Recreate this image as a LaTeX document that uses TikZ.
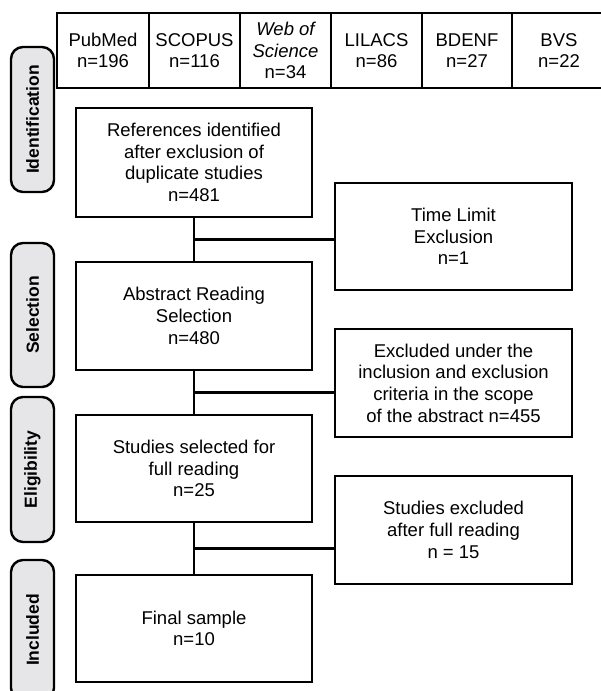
\documentclass[tikz,border=0pt]{standalone}
\usepackage{fontspec}
\setmainfont{Liberation Sans}
\usepackage{xcolor}
\usepackage{tikz}
\usetikzlibrary{positioning,calc}
\definecolor{pillgray}{RGB}{230,230,232}
\newcommand{\boxfont}{\fontsize{18.5}{21.7}\selectfont}

\begin{document}
\begin{tikzpicture}[x=1pt, y=1pt,
		phase/.style={draw, line width=2.4pt, rounded corners=12pt, fill=pillgray,
			rotate=90, minimum height=43pt, inner sep=0pt,
			font=\bfseries\fontsize{17.5}{20}\selectfont},
		stage/.style={draw, line width=2.4pt, minimum width=236pt, minimum height=108pt,
			align=center, inner sep=0pt, outer sep=0pt, font=\boxfont},
		excl/.style={stage, minimum width=237pt},
		src/.style={draw, line width=2.4pt, minimum height=75pt, align=center,
			inner sep=0pt, outer sep=0pt, font=\boxfont},
		link/.style={line width=2.6pt}]
		\useasboundingbox (0,0) rectangle (601,-691);
		\clip (0,0) rectangle (601,-691);
		% databases
		\node[src, minimum width=92pt] (pubmed) at (103,-50.5) {PubMed\\n=196};
		\node[src, minimum width=91pt] (scopus) at (194.5,-50.5) {SCOPUS\\n=116};
		\node[src, minimum width=91pt] (wos) at (285.5,-50.5) {\itshape Web of\\\itshape Science\\n=34};
		\node[src, minimum width=91pt] (lilacs) at (376.5,-50.5) {LILACS\\n=86};
		\node[src, minimum width=90pt] (bdenf) at (467,-50.5) {BDENF\\n=27};
		\node[src, minimum width=94pt] (bvs) at (559,-50.5) {BVS\\n=22};
		% phases
		\node[phase, minimum width=145pt] (ident) at (32.5,-119.5) {Identification};
		\node[phase, minimum width=144pt] (sel) at (32.5,-315) {Selection};
		\node[phase, minimum width=145pt] (elig) at (32.5,-469.5) {Eligibility};
		\node[phase, minimum width=140pt] (incl) at (32.5,-630) {Included};
		% main flow
		\node[stage, minimum height=109pt] (ref) at (194,-162.5)
			{References identified\\after exclusion of\\duplicate studies\\n=481};
		\node[stage, below=45pt of ref] (abs)
			{Abstract Reading\\Selection\\n=480};
		\node[stage, below=45pt of abs, minimum height=107pt] (full)
			{Studies selected for\\full reading\\n=25};
		\node[stage, below=53pt of full, minimum height=107pt] (final)
			{Final sample\\n=10};
		% exclusions
		\node[excl, minimum height=107pt] (time) at (453.5,-236.5)
			{Time Limit\\Exclusion\\n=1};
		\node[excl] (crit) at (453.5,-383)
			{Excluded under the\\inclusion and exclusion\\criteria in the scope\\of the abstract n=455};
		\node[excl] (fullex) at (453.5,-530)
			{Studies excluded\\after full reading\\n = 15};
		\draw[link] (ref) -- (abs);
		\draw[link] (abs) -- (full);
		\draw[link] (full) -- (final);
		\coordinate (j1) at ($(ref.south)!0.5!(abs.north)$);
		\coordinate (j2) at ($(abs.south)!0.5!(full.north)$);
		\coordinate (j3) at ($(full.south)!0.5!(final.north)$);
		\draw[link] (j1) -- (j1 -| time.west);
		\draw[link] (j2) -- (j2 -| crit.west);
		\draw[link] (j3) -- (j3 -| fullex.west);
	\end{tikzpicture}
\end{document}
